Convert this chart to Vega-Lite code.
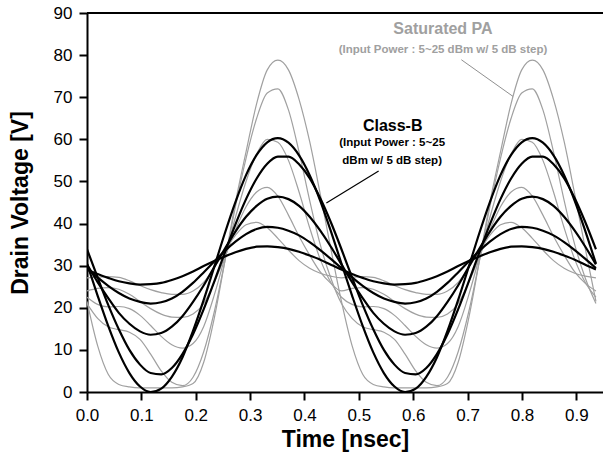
{
"$schema":"https://vega.github.io/schema/vega-lite/v6.json",
"autosize":"none",
"width":516,"height":379,
"padding":{"left":87,"top":13,"right":0,"bottom":75},
"config":{"view":{"stroke":null},"font":"Liberation Sans"},
"datasets":{"curves":[
{"s":"B1","t":0,"v":29.1},{"s":"B1","t":0.0195,"v":28.0},{"s":"B1","t":0.039,"v":27.1},{"s":"B1","t":0.0585,"v":26.3},{"s":"B1","t":0.078,"v":25.8},{"s":"B1","t":0.0975,"v":25.5},{"s":"B1","t":0.117,"v":25.6},{"s":"B1","t":0.1365,"v":25.9},{"s":"B1","t":0.156,"v":26.6},{"s":"B1","t":0.1755,"v":27.5},{"s":"B1","t":0.195,"v":28.6},{"s":"B1","t":0.2145,"v":29.9},{"s":"B1","t":0.234,"v":31.1},{"s":"B1","t":0.2535,"v":32.2},{"s":"B1","t":0.273,"v":33.2},{"s":"B1","t":0.2925,"v":34.0},{"s":"B1","t":0.312,"v":34.5},{"s":"B1","t":0.3315,"v":34.6},{"s":"B1","t":0.351,"v":34.4},{"s":"B1","t":0.3705,"v":34.0},{"s":"B1","t":0.39,"v":33.3},{"s":"B1","t":0.4095,"v":32.4},{"s":"B1","t":0.429,"v":31.4},{"s":"B1","t":0.4485,"v":30.2},
{"s":"B1","t":0.468,"v":29.1},{"s":"B1","t":0.4875,"v":28.0},{"s":"B1","t":0.507,"v":27.1},{"s":"B1","t":0.5265,"v":26.3},{"s":"B1","t":0.546,"v":25.8},{"s":"B1","t":0.5655,"v":25.5},{"s":"B1","t":0.585,"v":25.6},{"s":"B1","t":0.6045,"v":25.9},{"s":"B1","t":0.624,"v":26.6},{"s":"B1","t":0.6435,"v":27.5},{"s":"B1","t":0.663,"v":28.6},{"s":"B1","t":0.6825,"v":29.9},{"s":"B1","t":0.702,"v":31.1},{"s":"B1","t":0.7215,"v":32.2},{"s":"B1","t":0.741,"v":33.2},{"s":"B1","t":0.7605,"v":34.0},{"s":"B1","t":0.78,"v":34.5},{"s":"B1","t":0.7995,"v":34.6},{"s":"B1","t":0.819,"v":34.4},{"s":"B1","t":0.8385,"v":34.0},{"s":"B1","t":0.858,"v":33.3},{"s":"B1","t":0.8775,"v":32.4},{"s":"B1","t":0.897,"v":31.4},{"s":"B1","t":0.9165,"v":30.2},{"s":"B1","t":0.936,"v":29.1},
{"s":"B2","t":0,"v":29.4},{"s":"B2","t":0.0195,"v":27.2},{"s":"B2","t":0.039,"v":25.2},{"s":"B2","t":0.0585,"v":23.5},{"s":"B2","t":0.078,"v":22.2},{"s":"B2","t":0.0975,"v":21.4},{"s":"B2","t":0.117,"v":21.0},{"s":"B2","t":0.1365,"v":21.3},{"s":"B2","t":0.156,"v":22.2},{"s":"B2","t":0.1755,"v":23.8},{"s":"B2","t":0.195,"v":25.9},{"s":"B2","t":0.2145,"v":28.4},{"s":"B2","t":0.234,"v":31.0},{"s":"B2","t":0.2535,"v":33.5},{"s":"B2","t":0.273,"v":35.7},{"s":"B2","t":0.2925,"v":37.5},{"s":"B2","t":0.312,"v":38.7},{"s":"B2","t":0.3315,"v":39.2},{"s":"B2","t":0.351,"v":39.0},{"s":"B2","t":0.3705,"v":38.3},{"s":"B2","t":0.39,"v":37.2},{"s":"B2","t":0.4095,"v":35.6},{"s":"B2","t":0.429,"v":33.7},{"s":"B2","t":0.4485,"v":31.6},
{"s":"B2","t":0.468,"v":29.4},{"s":"B2","t":0.4875,"v":27.2},{"s":"B2","t":0.507,"v":25.2},{"s":"B2","t":0.5265,"v":23.5},{"s":"B2","t":0.546,"v":22.2},{"s":"B2","t":0.5655,"v":21.4},{"s":"B2","t":0.585,"v":21.0},{"s":"B2","t":0.6045,"v":21.3},{"s":"B2","t":0.624,"v":22.2},{"s":"B2","t":0.6435,"v":23.8},{"s":"B2","t":0.663,"v":25.9},{"s":"B2","t":0.6825,"v":28.4},{"s":"B2","t":0.702,"v":31.0},{"s":"B2","t":0.7215,"v":33.5},{"s":"B2","t":0.741,"v":35.7},{"s":"B2","t":0.7605,"v":37.5},{"s":"B2","t":0.78,"v":38.7},{"s":"B2","t":0.7995,"v":39.2},{"s":"B2","t":0.819,"v":39.0},{"s":"B2","t":0.8385,"v":38.3},{"s":"B2","t":0.858,"v":37.2},{"s":"B2","t":0.8775,"v":35.6},{"s":"B2","t":0.897,"v":33.7},{"s":"B2","t":0.9165,"v":31.6},{"s":"B2","t":0.936,"v":29.4},
{"s":"B3","t":0,"v":30.3},{"s":"B3","t":0.0195,"v":26.1},{"s":"B3","t":0.039,"v":22.3},{"s":"B3","t":0.0585,"v":18.8},{"s":"B3","t":0.078,"v":16.2},{"s":"B3","t":0.0975,"v":14.4},{"s":"B3","t":0.117,"v":13.6},{"s":"B3","t":0.1365,"v":14.0},{"s":"B3","t":0.156,"v":15.5},{"s":"B3","t":0.1755,"v":18.0},{"s":"B3","t":0.195,"v":21.4},{"s":"B3","t":0.2145,"v":25.3},{"s":"B3","t":0.234,"v":29.7},{"s":"B3","t":0.2535,"v":34.0},{"s":"B3","t":0.273,"v":38.1},{"s":"B3","t":0.2925,"v":41.6},{"s":"B3","t":0.312,"v":44.2},{"s":"B3","t":0.3315,"v":45.9},{"s":"B3","t":0.351,"v":46.4},{"s":"B3","t":0.3705,"v":45.8},{"s":"B3","t":0.39,"v":44.2},{"s":"B3","t":0.4095,"v":41.6},{"s":"B3","t":0.429,"v":38.3},{"s":"B3","t":0.4485,"v":34.5},
{"s":"B3","t":0.468,"v":30.3},{"s":"B3","t":0.4875,"v":26.1},{"s":"B3","t":0.507,"v":22.3},{"s":"B3","t":0.5265,"v":18.8},{"s":"B3","t":0.546,"v":16.2},{"s":"B3","t":0.5655,"v":14.4},{"s":"B3","t":0.585,"v":13.6},{"s":"B3","t":0.6045,"v":14.0},{"s":"B3","t":0.624,"v":15.5},{"s":"B3","t":0.6435,"v":18.0},{"s":"B3","t":0.663,"v":21.4},{"s":"B3","t":0.6825,"v":25.3},{"s":"B3","t":0.702,"v":29.7},{"s":"B3","t":0.7215,"v":34.0},{"s":"B3","t":0.741,"v":38.1},{"s":"B3","t":0.7605,"v":41.6},{"s":"B3","t":0.78,"v":44.2},{"s":"B3","t":0.7995,"v":45.9},{"s":"B3","t":0.819,"v":46.4},{"s":"B3","t":0.8385,"v":45.8},{"s":"B3","t":0.858,"v":44.2},{"s":"B3","t":0.8775,"v":41.6},{"s":"B3","t":0.897,"v":38.3},{"s":"B3","t":0.9165,"v":34.5},{"s":"B3","t":0.936,"v":30.3},
{"s":"B4","t":0,"v":33.9},{"s":"B4","t":0.0195,"v":27.2},{"s":"B4","t":0.039,"v":20.7},{"s":"B4","t":0.0585,"v":14.9},{"s":"B4","t":0.078,"v":10.0},{"s":"B4","t":0.0975,"v":6.5},{"s":"B4","t":0.117,"v":4.5},{"s":"B4","t":0.1365,"v":4.2},{"s":"B4","t":0.156,"v":5.7},{"s":"B4","t":0.1755,"v":9.0},{"s":"B4","t":0.195,"v":13.7},{"s":"B4","t":0.2145,"v":19.6},{"s":"B4","t":0.234,"v":26.2},{"s":"B4","t":0.2535,"v":33.1},{"s":"B4","t":0.273,"v":39.8},{"s":"B4","t":0.2925,"v":45.8},{"s":"B4","t":0.312,"v":50.7},{"s":"B4","t":0.3315,"v":54.2},{"s":"B4","t":0.351,"v":55.9},{"s":"B4","t":0.3705,"v":55.9},{"s":"B4","t":0.39,"v":54.1},{"s":"B4","t":0.4095,"v":50.8},{"s":"B4","t":0.429,"v":46.0},{"s":"B4","t":0.4485,"v":40.3},
{"s":"B4","t":0.468,"v":33.9},{"s":"B4","t":0.4875,"v":27.2},{"s":"B4","t":0.507,"v":20.7},{"s":"B4","t":0.5265,"v":14.9},{"s":"B4","t":0.546,"v":10.0},{"s":"B4","t":0.5655,"v":6.5},{"s":"B4","t":0.585,"v":4.5},{"s":"B4","t":0.6045,"v":4.2},{"s":"B4","t":0.624,"v":5.7},{"s":"B4","t":0.6435,"v":9.0},{"s":"B4","t":0.663,"v":13.7},{"s":"B4","t":0.6825,"v":19.6},{"s":"B4","t":0.702,"v":26.2},{"s":"B4","t":0.7215,"v":33.1},{"s":"B4","t":0.741,"v":39.8},{"s":"B4","t":0.7605,"v":45.8},{"s":"B4","t":0.78,"v":50.7},{"s":"B4","t":0.7995,"v":54.2},{"s":"B4","t":0.819,"v":55.9},{"s":"B4","t":0.8385,"v":55.9},{"s":"B4","t":0.858,"v":54.1},{"s":"B4","t":0.8775,"v":50.8},{"s":"B4","t":0.897,"v":46.0},{"s":"B4","t":0.9165,"v":40.3},{"s":"B4","t":0.936,"v":33.9},
{"s":"B5","t":0,"v":30.5},{"s":"B5","t":0.0195,"v":22.9},{"s":"B5","t":0.039,"v":15.7},{"s":"B5","t":0.0585,"v":9.4},{"s":"B5","t":0.078,"v":4.5},{"s":"B5","t":0.0975,"v":1.3},{"s":"B5","t":0.117,"v":0.0},{"s":"B5","t":0.1365,"v":0.8},{"s":"B5","t":0.156,"v":3.6},{"s":"B5","t":0.1755,"v":8.2},{"s":"B5","t":0.195,"v":14.5},{"s":"B5","t":0.2145,"v":21.8},{"s":"B5","t":0.234,"v":29.7},{"s":"B5","t":0.2535,"v":37.7},{"s":"B5","t":0.273,"v":45.1},{"s":"B5","t":0.2925,"v":51.5},{"s":"B5","t":0.312,"v":56.3},{"s":"B5","t":0.3315,"v":59.3},{"s":"B5","t":0.351,"v":60.3},{"s":"B5","t":0.3705,"v":59.2},{"s":"B5","t":0.39,"v":56.2},{"s":"B5","t":0.4095,"v":51.5},{"s":"B5","t":0.429,"v":45.4},{"s":"B5","t":0.4485,"v":38.2},
{"s":"B5","t":0.468,"v":30.5},{"s":"B5","t":0.4875,"v":22.9},{"s":"B5","t":0.507,"v":15.7},{"s":"B5","t":0.5265,"v":9.4},{"s":"B5","t":0.546,"v":4.5},{"s":"B5","t":0.5655,"v":1.3},{"s":"B5","t":0.585,"v":0.0},{"s":"B5","t":0.6045,"v":0.8},{"s":"B5","t":0.624,"v":3.6},{"s":"B5","t":0.6435,"v":8.2},{"s":"B5","t":0.663,"v":14.5},{"s":"B5","t":0.6825,"v":21.8},{"s":"B5","t":0.702,"v":29.7},{"s":"B5","t":0.7215,"v":37.7},{"s":"B5","t":0.741,"v":45.1},{"s":"B5","t":0.7605,"v":51.5},{"s":"B5","t":0.78,"v":56.3},{"s":"B5","t":0.7995,"v":59.3},{"s":"B5","t":0.819,"v":60.3},{"s":"B5","t":0.8385,"v":59.2},{"s":"B5","t":0.858,"v":56.2},{"s":"B5","t":0.8775,"v":51.5},{"s":"B5","t":0.897,"v":45.4},{"s":"B5","t":0.9165,"v":38.2},{"s":"B5","t":0.936,"v":30.5},
{"s":"G1","t":0,"v":27.1},{"s":"G1","t":0.0195,"v":27.3},{"s":"G1","t":0.039,"v":27.4},{"s":"G1","t":0.0585,"v":27.2},{"s":"G1","t":0.078,"v":26.4},{"s":"G1","t":0.0975,"v":25.3},{"s":"G1","t":0.117,"v":24.3},{"s":"G1","t":0.1365,"v":23.6},{"s":"G1","t":0.156,"v":23.2},{"s":"G1","t":0.1755,"v":23.2},{"s":"G1","t":0.195,"v":24.0},{"s":"G1","t":0.2145,"v":26.0},{"s":"G1","t":0.234,"v":29.5},{"s":"G1","t":0.2535,"v":33.5},{"s":"G1","t":0.273,"v":37.2},{"s":"G1","t":0.2925,"v":39.7},{"s":"G1","t":0.312,"v":40.3},{"s":"G1","t":0.3315,"v":39.0},{"s":"G1","t":0.351,"v":36.5},{"s":"G1","t":0.3705,"v":33.7},{"s":"G1","t":0.39,"v":31.2},{"s":"G1","t":0.4095,"v":29.4},{"s":"G1","t":0.429,"v":28.2},{"s":"G1","t":0.4485,"v":27.5},
{"s":"G1","t":0.468,"v":27.1},{"s":"G1","t":0.4875,"v":27.3},{"s":"G1","t":0.507,"v":27.4},{"s":"G1","t":0.5265,"v":27.2},{"s":"G1","t":0.546,"v":26.4},{"s":"G1","t":0.5655,"v":25.3},{"s":"G1","t":0.585,"v":24.3},{"s":"G1","t":0.6045,"v":23.6},{"s":"G1","t":0.624,"v":23.2},{"s":"G1","t":0.6435,"v":23.2},{"s":"G1","t":0.663,"v":24.0},{"s":"G1","t":0.6825,"v":26.0},{"s":"G1","t":0.702,"v":29.5},{"s":"G1","t":0.7215,"v":33.5},{"s":"G1","t":0.741,"v":37.2},{"s":"G1","t":0.7605,"v":39.7},{"s":"G1","t":0.78,"v":40.3},{"s":"G1","t":0.7995,"v":39.0},{"s":"G1","t":0.819,"v":36.5},{"s":"G1","t":0.8385,"v":33.7},{"s":"G1","t":0.858,"v":31.2},{"s":"G1","t":0.8775,"v":29.4},{"s":"G1","t":0.897,"v":28.2},{"s":"G1","t":0.9165,"v":27.5},{"s":"G1","t":0.936,"v":27.1},
{"s":"G2","t":0,"v":24.0},{"s":"G2","t":0.0195,"v":24.6},{"s":"G2","t":0.039,"v":24.8},{"s":"G2","t":0.0585,"v":24.4},{"s":"G2","t":0.078,"v":23.2},{"s":"G2","t":0.0975,"v":21.5},{"s":"G2","t":0.117,"v":19.8},{"s":"G2","t":0.1365,"v":18.5},{"s":"G2","t":0.156,"v":17.8},{"s":"G2","t":0.1755,"v":17.7},{"s":"G2","t":0.195,"v":18.5},{"s":"G2","t":0.2145,"v":21.0},{"s":"G2","t":0.234,"v":26.0},{"s":"G2","t":0.2535,"v":32.0},{"s":"G2","t":0.273,"v":38.5},{"s":"G2","t":0.2925,"v":44.0},{"s":"G2","t":0.312,"v":47.5},{"s":"G2","t":0.3315,"v":48.6},{"s":"G2","t":0.351,"v":46.5},{"s":"G2","t":0.3705,"v":42.0},{"s":"G2","t":0.39,"v":37.0},{"s":"G2","t":0.4095,"v":32.5},{"s":"G2","t":0.429,"v":28.5},{"s":"G2","t":0.4485,"v":25.8},
{"s":"G2","t":0.468,"v":24.0},{"s":"G2","t":0.4875,"v":24.6},{"s":"G2","t":0.507,"v":24.8},{"s":"G2","t":0.5265,"v":24.4},{"s":"G2","t":0.546,"v":23.2},{"s":"G2","t":0.5655,"v":21.5},{"s":"G2","t":0.585,"v":19.8},{"s":"G2","t":0.6045,"v":18.5},{"s":"G2","t":0.624,"v":17.8},{"s":"G2","t":0.6435,"v":17.7},{"s":"G2","t":0.663,"v":18.5},{"s":"G2","t":0.6825,"v":21.0},{"s":"G2","t":0.702,"v":26.0},{"s":"G2","t":0.7215,"v":32.0},{"s":"G2","t":0.741,"v":38.5},{"s":"G2","t":0.7605,"v":44.0},{"s":"G2","t":0.78,"v":47.5},{"s":"G2","t":0.7995,"v":48.6},{"s":"G2","t":0.819,"v":46.5},{"s":"G2","t":0.8385,"v":42.0},{"s":"G2","t":0.858,"v":37.0},{"s":"G2","t":0.8775,"v":32.5},{"s":"G2","t":0.897,"v":28.5},{"s":"G2","t":0.9165,"v":25.8},{"s":"G2","t":0.936,"v":24.0},
{"s":"G3","t":0,"v":22.5},{"s":"G3","t":0.0195,"v":20.8},{"s":"G3","t":0.039,"v":20.2},{"s":"G3","t":0.0585,"v":20.3},{"s":"G3","t":0.078,"v":19.8},{"s":"G3","t":0.0975,"v":18.2},{"s":"G3","t":0.117,"v":15.8},{"s":"G3","t":0.1365,"v":13.2},{"s":"G3","t":0.156,"v":11.2},{"s":"G3","t":0.1755,"v":10.4},{"s":"G3","t":0.195,"v":11.5},{"s":"G3","t":0.2145,"v":15.5},{"s":"G3","t":0.234,"v":23.0},{"s":"G3","t":0.2535,"v":32.0},{"s":"G3","t":0.273,"v":41.5},{"s":"G3","t":0.2925,"v":50.0},{"s":"G3","t":0.312,"v":56.5},{"s":"G3","t":0.3315,"v":60.0},{"s":"G3","t":0.351,"v":59.3},{"s":"G3","t":0.3705,"v":55.0},{"s":"G3","t":0.39,"v":47.5},{"s":"G3","t":0.4095,"v":39.0},{"s":"G3","t":0.429,"v":31.5},{"s":"G3","t":0.4485,"v":26.0},
{"s":"G3","t":0.468,"v":22.5},{"s":"G3","t":0.4875,"v":20.8},{"s":"G3","t":0.507,"v":20.2},{"s":"G3","t":0.5265,"v":20.3},{"s":"G3","t":0.546,"v":19.8},{"s":"G3","t":0.5655,"v":18.2},{"s":"G3","t":0.585,"v":15.8},{"s":"G3","t":0.6045,"v":13.2},{"s":"G3","t":0.624,"v":11.2},{"s":"G3","t":0.6435,"v":10.4},{"s":"G3","t":0.663,"v":11.5},{"s":"G3","t":0.6825,"v":15.5},{"s":"G3","t":0.702,"v":23.0},{"s":"G3","t":0.7215,"v":32.0},{"s":"G3","t":0.741,"v":41.5},{"s":"G3","t":0.7605,"v":50.0},{"s":"G3","t":0.78,"v":56.5},{"s":"G3","t":0.7995,"v":60.0},{"s":"G3","t":0.819,"v":59.3},{"s":"G3","t":0.8385,"v":55.0},{"s":"G3","t":0.858,"v":47.5},{"s":"G3","t":0.8775,"v":39.0},{"s":"G3","t":0.897,"v":31.5},{"s":"G3","t":0.9165,"v":26.0},{"s":"G3","t":0.936,"v":22.5},
{"s":"G4","t":0,"v":21.0},{"s":"G4","t":0.0195,"v":17.5},{"s":"G4","t":0.039,"v":15.5},{"s":"G4","t":0.0585,"v":14.8},{"s":"G4","t":0.078,"v":14.2},{"s":"G4","t":0.0975,"v":12.5},{"s":"G4","t":0.117,"v":9.0},{"s":"G4","t":0.1365,"v":5.0},{"s":"G4","t":0.156,"v":2.3},{"s":"G4","t":0.1755,"v":1.5},{"s":"G4","t":0.195,"v":3.5},{"s":"G4","t":0.2145,"v":9.5},{"s":"G4","t":0.234,"v":19.0},{"s":"G4","t":0.2535,"v":31.0},{"s":"G4","t":0.273,"v":44.0},{"s":"G4","t":0.2925,"v":55.5},{"s":"G4","t":0.312,"v":65.0},{"s":"G4","t":0.3315,"v":71.0},{"s":"G4","t":0.351,"v":72.0},{"s":"G4","t":0.3705,"v":67.0},{"s":"G4","t":0.39,"v":57.0},{"s":"G4","t":0.4095,"v":45.5},{"s":"G4","t":0.429,"v":35.0},{"s":"G4","t":0.4485,"v":27.0},
{"s":"G4","t":0.468,"v":21.0},{"s":"G4","t":0.4875,"v":17.5},{"s":"G4","t":0.507,"v":15.5},{"s":"G4","t":0.5265,"v":14.8},{"s":"G4","t":0.546,"v":14.2},{"s":"G4","t":0.5655,"v":12.5},{"s":"G4","t":0.585,"v":9.0},{"s":"G4","t":0.6045,"v":5.0},{"s":"G4","t":0.624,"v":2.3},{"s":"G4","t":0.6435,"v":1.5},{"s":"G4","t":0.663,"v":3.5},{"s":"G4","t":0.6825,"v":9.5},{"s":"G4","t":0.702,"v":19.0},{"s":"G4","t":0.7215,"v":31.0},{"s":"G4","t":0.741,"v":44.0},{"s":"G4","t":0.7605,"v":55.5},{"s":"G4","t":0.78,"v":65.0},{"s":"G4","t":0.7995,"v":71.0},{"s":"G4","t":0.819,"v":72.0},{"s":"G4","t":0.8385,"v":67.0},{"s":"G4","t":0.858,"v":57.0},{"s":"G4","t":0.8775,"v":45.5},{"s":"G4","t":0.897,"v":35.0},{"s":"G4","t":0.9165,"v":27.0},{"s":"G4","t":0.936,"v":21.0},
{"s":"G5","t":0,"v":21.5},{"s":"G5","t":0.0195,"v":11.0},{"s":"G5","t":0.039,"v":4.2},{"s":"G5","t":0.0585,"v":1.8},{"s":"G5","t":0.078,"v":1.2},{"s":"G5","t":0.0975,"v":1.0},{"s":"G5","t":0.117,"v":1.0},{"s":"G5","t":0.1365,"v":1.0},{"s":"G5","t":0.156,"v":1.0},{"s":"G5","t":0.1755,"v":1.2},{"s":"G5","t":0.195,"v":2.0},{"s":"G5","t":0.2145,"v":7.0},{"s":"G5","t":0.234,"v":17.5},{"s":"G5","t":0.2535,"v":31.0},{"s":"G5","t":0.273,"v":45.0},{"s":"G5","t":0.2925,"v":57.0},{"s":"G5","t":0.312,"v":68.5},{"s":"G5","t":0.3315,"v":76.5},{"s":"G5","t":0.351,"v":78.8},{"s":"G5","t":0.3705,"v":76.5},{"s":"G5","t":0.39,"v":69.5},{"s":"G5","t":0.4095,"v":59.5},{"s":"G5","t":0.429,"v":47.0},{"s":"G5","t":0.4485,"v":34.0},
{"s":"G5","t":0.468,"v":21.5},{"s":"G5","t":0.4875,"v":11.0},{"s":"G5","t":0.507,"v":4.2},{"s":"G5","t":0.5265,"v":1.8},{"s":"G5","t":0.546,"v":1.2},{"s":"G5","t":0.5655,"v":1.0},{"s":"G5","t":0.585,"v":1.0},{"s":"G5","t":0.6045,"v":1.0},{"s":"G5","t":0.624,"v":1.0},{"s":"G5","t":0.6435,"v":1.2},{"s":"G5","t":0.663,"v":2.0},{"s":"G5","t":0.6825,"v":7.0},{"s":"G5","t":0.702,"v":17.5},{"s":"G5","t":0.7215,"v":31.0},{"s":"G5","t":0.741,"v":45.0},{"s":"G5","t":0.7605,"v":57.0},{"s":"G5","t":0.78,"v":68.5},{"s":"G5","t":0.7995,"v":76.5},{"s":"G5","t":0.819,"v":78.8},{"s":"G5","t":0.8385,"v":76.5},{"s":"G5","t":0.858,"v":69.5},{"s":"G5","t":0.8775,"v":59.5},{"s":"G5","t":0.897,"v":47.0},{"s":"G5","t":0.9165,"v":34.0},{"s":"G5","t":0.936,"v":21.5}
]},
"data":{"name":"curves"},
"layer":[
{"transform":[{"filter":"datum.s[0] === 'G'"}],
 "mark":{"type":"line","interpolate":"monotone","color":"#a0a0a0","strokeWidth":1.2,"clip":true},
 "encoding":{
  "x":{"field":"t","type":"quantitative","scale":{"domain":[0,0.949],"nice":false,"zero":false},
   "axis":{"values":[0,0.05,0.1,0.15,0.2,0.25,0.3,0.35,0.4,0.45,0.5,0.55,0.6,0.65,0.7,0.75,0.8,0.85,0.9],"format":".1f",
    "labelExpr":"round(datum.value*20) % 2 === 0 ? datum.label : ''",
    "tickSize":{"condition":{"test":"round(datum.value*20) % 2 === 1","value":5},"value":8},
    "title":"Time [nsec]","titleFont":"Liberation Sans","titleFontSize":23,"titleFontWeight":"bold","titleColor":"black","titlePadding":5,
    "labelFont":"Liberation Sans","labelFontSize":17,"labelColor":"black","labelPadding":7,"labelFlush":false,"labelOverlap":false,
    "domainColor":"black","domainWidth":2,"tickColor":"black","tickWidth":2,"grid":false}},
  "y":{"field":"v","type":"quantitative","scale":{"domain":[0,90],"nice":false,"zero":false},
   "axis":{"values":[0,5,10,15,20,25,30,35,40,45,50,55,60,65,70,75,80,85,90],
    "labelExpr":"datum.value % 10 === 0 ? datum.label : ''",
    "tickSize":{"condition":{"test":"datum.value % 10 !== 0","value":5},"value":8},
    "title":"Drain Voltage [V]","titleFont":"Liberation Sans","titleFontSize":23,"titleFontWeight":"bold","titleColor":"black","titlePadding":21,
    "labelFont":"Liberation Sans","labelFontSize":17,"labelColor":"black","labelPadding":7,"labelFlush":false,"labelOverlap":false,
    "domainColor":"black","domainWidth":2,"tickColor":"black","tickWidth":2,"grid":false}},
  "detail":{"field":"s"}}},
{"transform":[{"filter":"datum.s[0] === 'B'"}],
 "mark":{"type":"line","interpolate":"monotone","color":"black","strokeWidth":2.2,"clip":true},
 "encoding":{"x":{"field":"t","type":"quantitative"},"y":{"field":"v","type":"quantitative"},"detail":{"field":"s"}}},
{"data":{"values":[{}]},"mark":{"type":"rule","color":"black","strokeWidth":2},"encoding":{"y":{"datum":90,"type":"quantitative"}}},
{"data":{"values":[{}]},"mark":{"type":"rule","color":"#909090","strokeWidth":1},
 "encoding":{"x":{"datum":0.6885,"type":"quantitative"},"y":{"datum":78.9,"type":"quantitative"},"x2":{"datum":0.7834},"y2":{"datum":70.2}}},
{"data":{"values":[{}]},"mark":{"type":"rule","color":"black","strokeWidth":1.2},
 "encoding":{"x":{"datum":0.5364,"type":"quantitative"},"y":{"datum":52.5,"type":"quantitative"},"x2":{"datum":0.4402},"y2":{"datum":44.9}}},
{"data":{"values":[{}]},"mark":{"type":"text","font":"Liberation Sans","fontWeight":"bold","fontSize":16,"color":"#a0a0a0","align":"center","baseline":"alphabetic"},
 "encoding":{"x":{"datum":0.6547,"type":"quantitative"},"y":{"datum":85.1,"type":"quantitative"},"text":{"value":"Saturated PA"}}},
{"data":{"values":[{}]},"mark":{"type":"text","font":"Liberation Sans","fontWeight":"bold","fontSize":11.5,"color":"#a0a0a0","align":"center","baseline":"alphabetic"},
 "encoding":{"x":{"datum":0.6547,"type":"quantitative"},"y":{"datum":80.5,"type":"quantitative"},"text":{"value":"(Input Power : 5~25 dBm w/ 5 dB step)"}}},
{"data":{"values":[{}]},"mark":{"type":"text","font":"Liberation Sans","fontWeight":"bold","fontSize":16,"color":"black","align":"center","baseline":"alphabetic"},
 "encoding":{"x":{"datum":0.5622,"type":"quantitative"},"y":{"datum":62.0,"type":"quantitative"},"text":{"value":"Class-B"}}},
{"data":{"values":[{}]},"mark":{"type":"text","font":"Liberation Sans","fontWeight":"bold","fontSize":11.5,"color":"black","align":"center","baseline":"alphabetic"},
 "encoding":{"x":{"datum":0.5612,"type":"quantitative"},"y":{"datum":58.4,"type":"quantitative"},"text":{"value":"(Input Power : 5~25"}}},
{"data":{"values":[{}]},"mark":{"type":"text","font":"Liberation Sans","fontWeight":"bold","fontSize":11.5,"color":"black","align":"center","baseline":"alphabetic"},
 "encoding":{"x":{"datum":0.5612,"type":"quantitative"},"y":{"datum":54.2,"type":"quantitative"},"text":{"value":"dBm w/ 5 dB step)"}}}
]
}
